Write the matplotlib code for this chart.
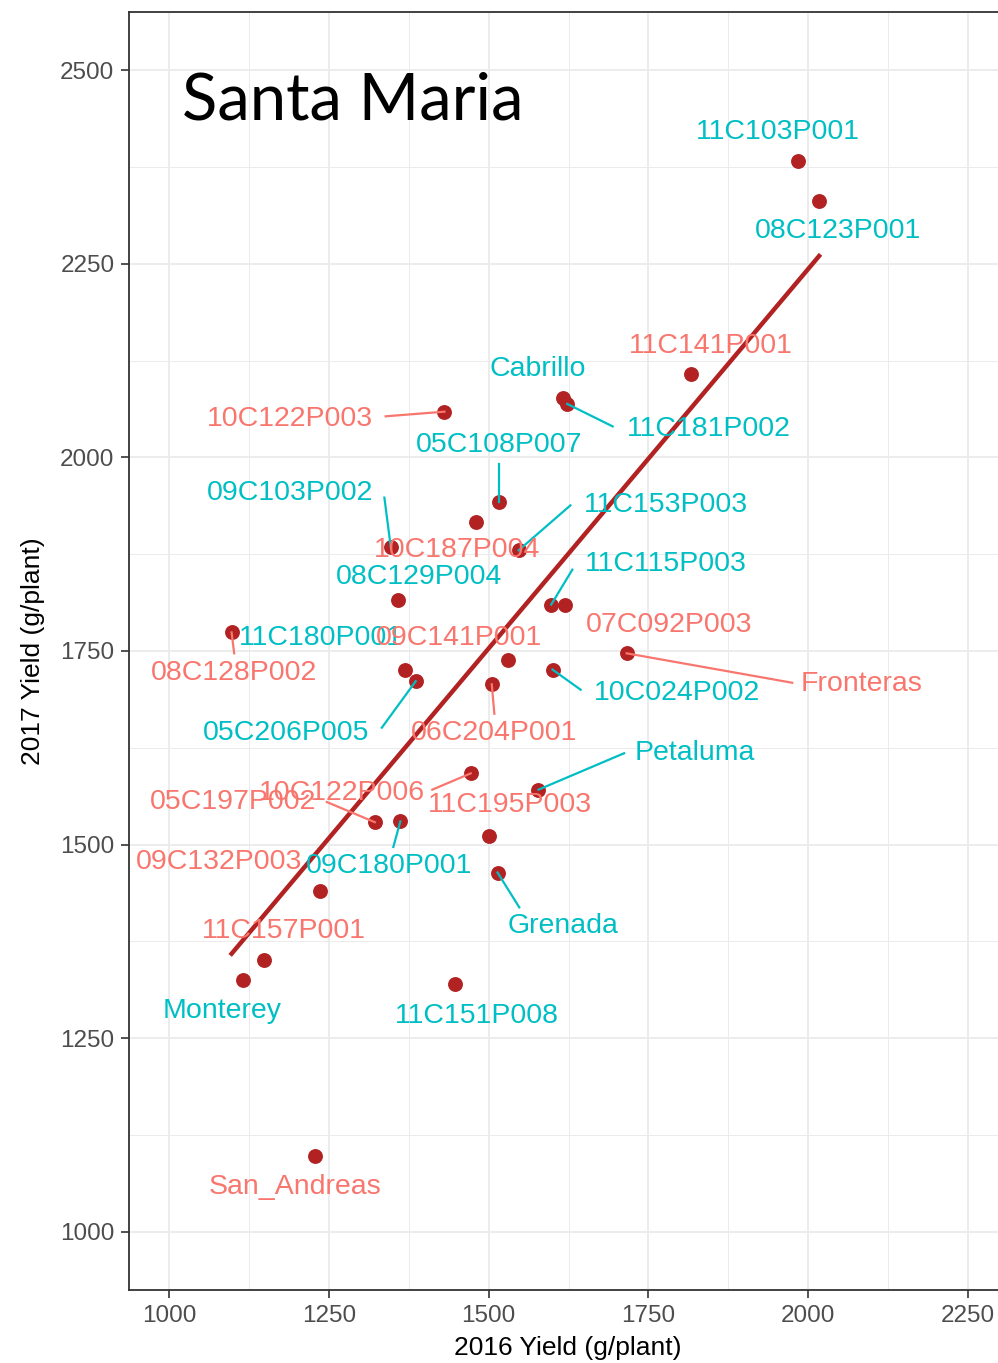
import matplotlib
matplotlib.use('Agg')
import matplotlib.pyplot as plt
import numpy as np

# genotype names, 2016 / 2017 yields (g/plant) and label group
names = ['11C103P001', '08C123P001', '11C141P001', 'Cabrillo', '11C181P002',
         '10C122P003', '05C108P007', '10C187P004', '09C103P002', '11C153P003',
         '08C129P004', '11C115P003', '07C092P003', '08C128P002', '11C180P001',
         '09C141P001', '05C206P005', '06C204P001', '10C024P002', 'Fronteras',
         '10C122P006', 'Petaluma', '05C197P002', '09C180P001', '11C195P003',
         'Grenada', '09C132P003', '11C157P001', 'Monterey', '11C151P008',
         'San_Andreas']
yield_2016 = [1984, 2017, 1816, 1617, 1623, 1431, 1516, 1480, 1347, 1547,
              1358, 1598, 1620, 1098, 1369, 1531, 1386, 1505, 1600, 1716,
              1472, 1578, 1322, 1362, 1500, 1514, 1237, 1148, 1116, 1448,
              1228]
yield_2017 = [2383, 2331, 2107, 2077, 2069, 2059, 1942, 1916, 1884, 1880,
              1816, 1810, 1809, 1774, 1725, 1738, 1711, 1707, 1726, 1747,
              1592, 1571, 1529, 1530, 1511, 1464, 1440, 1351, 1325, 1320,
              1098]
group = ['b', 'b', 'a', 'b', 'b', 'a', 'b', 'a', 'b', 'b',
         'b', 'b', 'a', 'a', 'b', 'a', 'b', 'a', 'b', 'a',
         'a', 'b', 'a', 'b', 'a', 'b', 'a', 'a', 'b', 'b',
         'a']

# label placement (repelled text positions) and segment starts (None = no segment)
label_xy = [(1953, 2420), (2047, 2292), (1848, 2144), (1577, 2114), (1845, 2037),
            (1189, 2050), (1516, 2016), (1450, 1880), (1189, 1954), (1778, 1939),
            (1391, 1845), (1778, 1862), (1783, 1784), (1101, 1721), (1237, 1767),
            (1453, 1767), (1184, 1644), (1509, 1644), (1794, 1696), (2084, 1708),
            (1270, 1567), (1822, 1618), (1101, 1555), (1345, 1472), (1534, 1551),
            (1616, 1395), (1078, 1478), (1180, 1388), (1083, 1285), (1481, 1279),
            (1197, 1058)]
seg_from = [None, None, None, None, (1694, 2040),
            (1339, 2053), (1516, 1991), None, (1337, 1948), (1628, 1938),
            None, (1631, 1855), None, (1102, 1747), None,
            None, (1333, 1651), (1509, 1669), (1644, 1700), (1975, 1709),
            (1412, 1571), (1712, 1618), (1247, 1555), (1351, 1497), None,
            (1548, 1419), None, None, None, None,
            None]

colors = {'a': '#F8766D', 'b': '#00BFC4'}
point_col = '#B22222'

plt.rcParams['font.family'] = ['Liberation Sans', 'DejaVu Sans']

fig = plt.figure(figsize=(9.98, 13.63), dpi=100)
ax = fig.add_axes([129 / 998, 73 / 1363, (1008 - 129) / 998, (1290 - 12) / 1363])

ax.set_xlim(937.5, 2312.5)
ax.set_ylim(925, 2575)

ax.set_xticks([1000, 1250, 1500, 1750, 2000, 2250])
ax.set_yticks([1000, 1250, 1500, 1750, 2000, 2250, 2500])
ax.set_xticks(np.arange(1125, 2300, 250), minor=True)
ax.set_yticks(np.arange(1125, 2500, 250), minor=True)
ax.grid(which='major', color='#EBEBEB', linewidth=1.3, zorder=0)
ax.grid(which='minor', color='#EBEBEB', linewidth=0.7, zorder=0)
ax.set_axisbelow(True)
ax.tick_params(which='major', direction='out', length=5.5, width=1.2,
               color='#333333', labelsize=17.5, labelcolor='#4D4D4D', pad=5)
ax.tick_params(which='minor', length=0)
for s in ax.spines.values():
    s.set_color('#333333')
    s.set_linewidth(1.3)

x = np.array(yield_2016, dtype=float)
y = np.array(yield_2017, dtype=float)

# linear fit
slope, icpt = np.polyfit(x, y, 1)
xx = np.array([x.min(), x.max()])
ax.plot(xx, icpt + slope * xx, color=point_col, linewidth=3.2, zorder=3)

ax.scatter(x, y, s=115, color=point_col, zorder=4, linewidths=0)

for i, n in enumerate(names):
    c = colors[group[i]]
    if seg_from[i] is not None:
        ax.plot([seg_from[i][0], x[i]], [seg_from[i][1], y[i]], color=c,
                linewidth=1.6, zorder=5)
    ax.text(label_xy[i][0], label_xy[i][1], n, color=c, fontsize=20.5,
            ha='center', va='center', zorder=6)

ax.text(1020, 2436, 'Santa Maria', fontsize=47, family=['Lato', 'DejaVu Sans'],
        ha='left', va='baseline', color='black')

ax.set_xlabel('2016 Yield (g/plant)', fontsize=19, color='black')
ax.set_ylabel('2017 Yield (g/plant)', fontsize=19, color='black')
ax.xaxis.set_label_coords((568 - 129) / 879, -(1348 - 1290) / 1278)
ax.yaxis.set_label_coords(-(129 - 33) / 879, (1290 - 651) / 1278)
ax.xaxis.label.set_va('center')
ax.yaxis.label.set_va('center')

fig.savefig('out.png', dpi=100)
